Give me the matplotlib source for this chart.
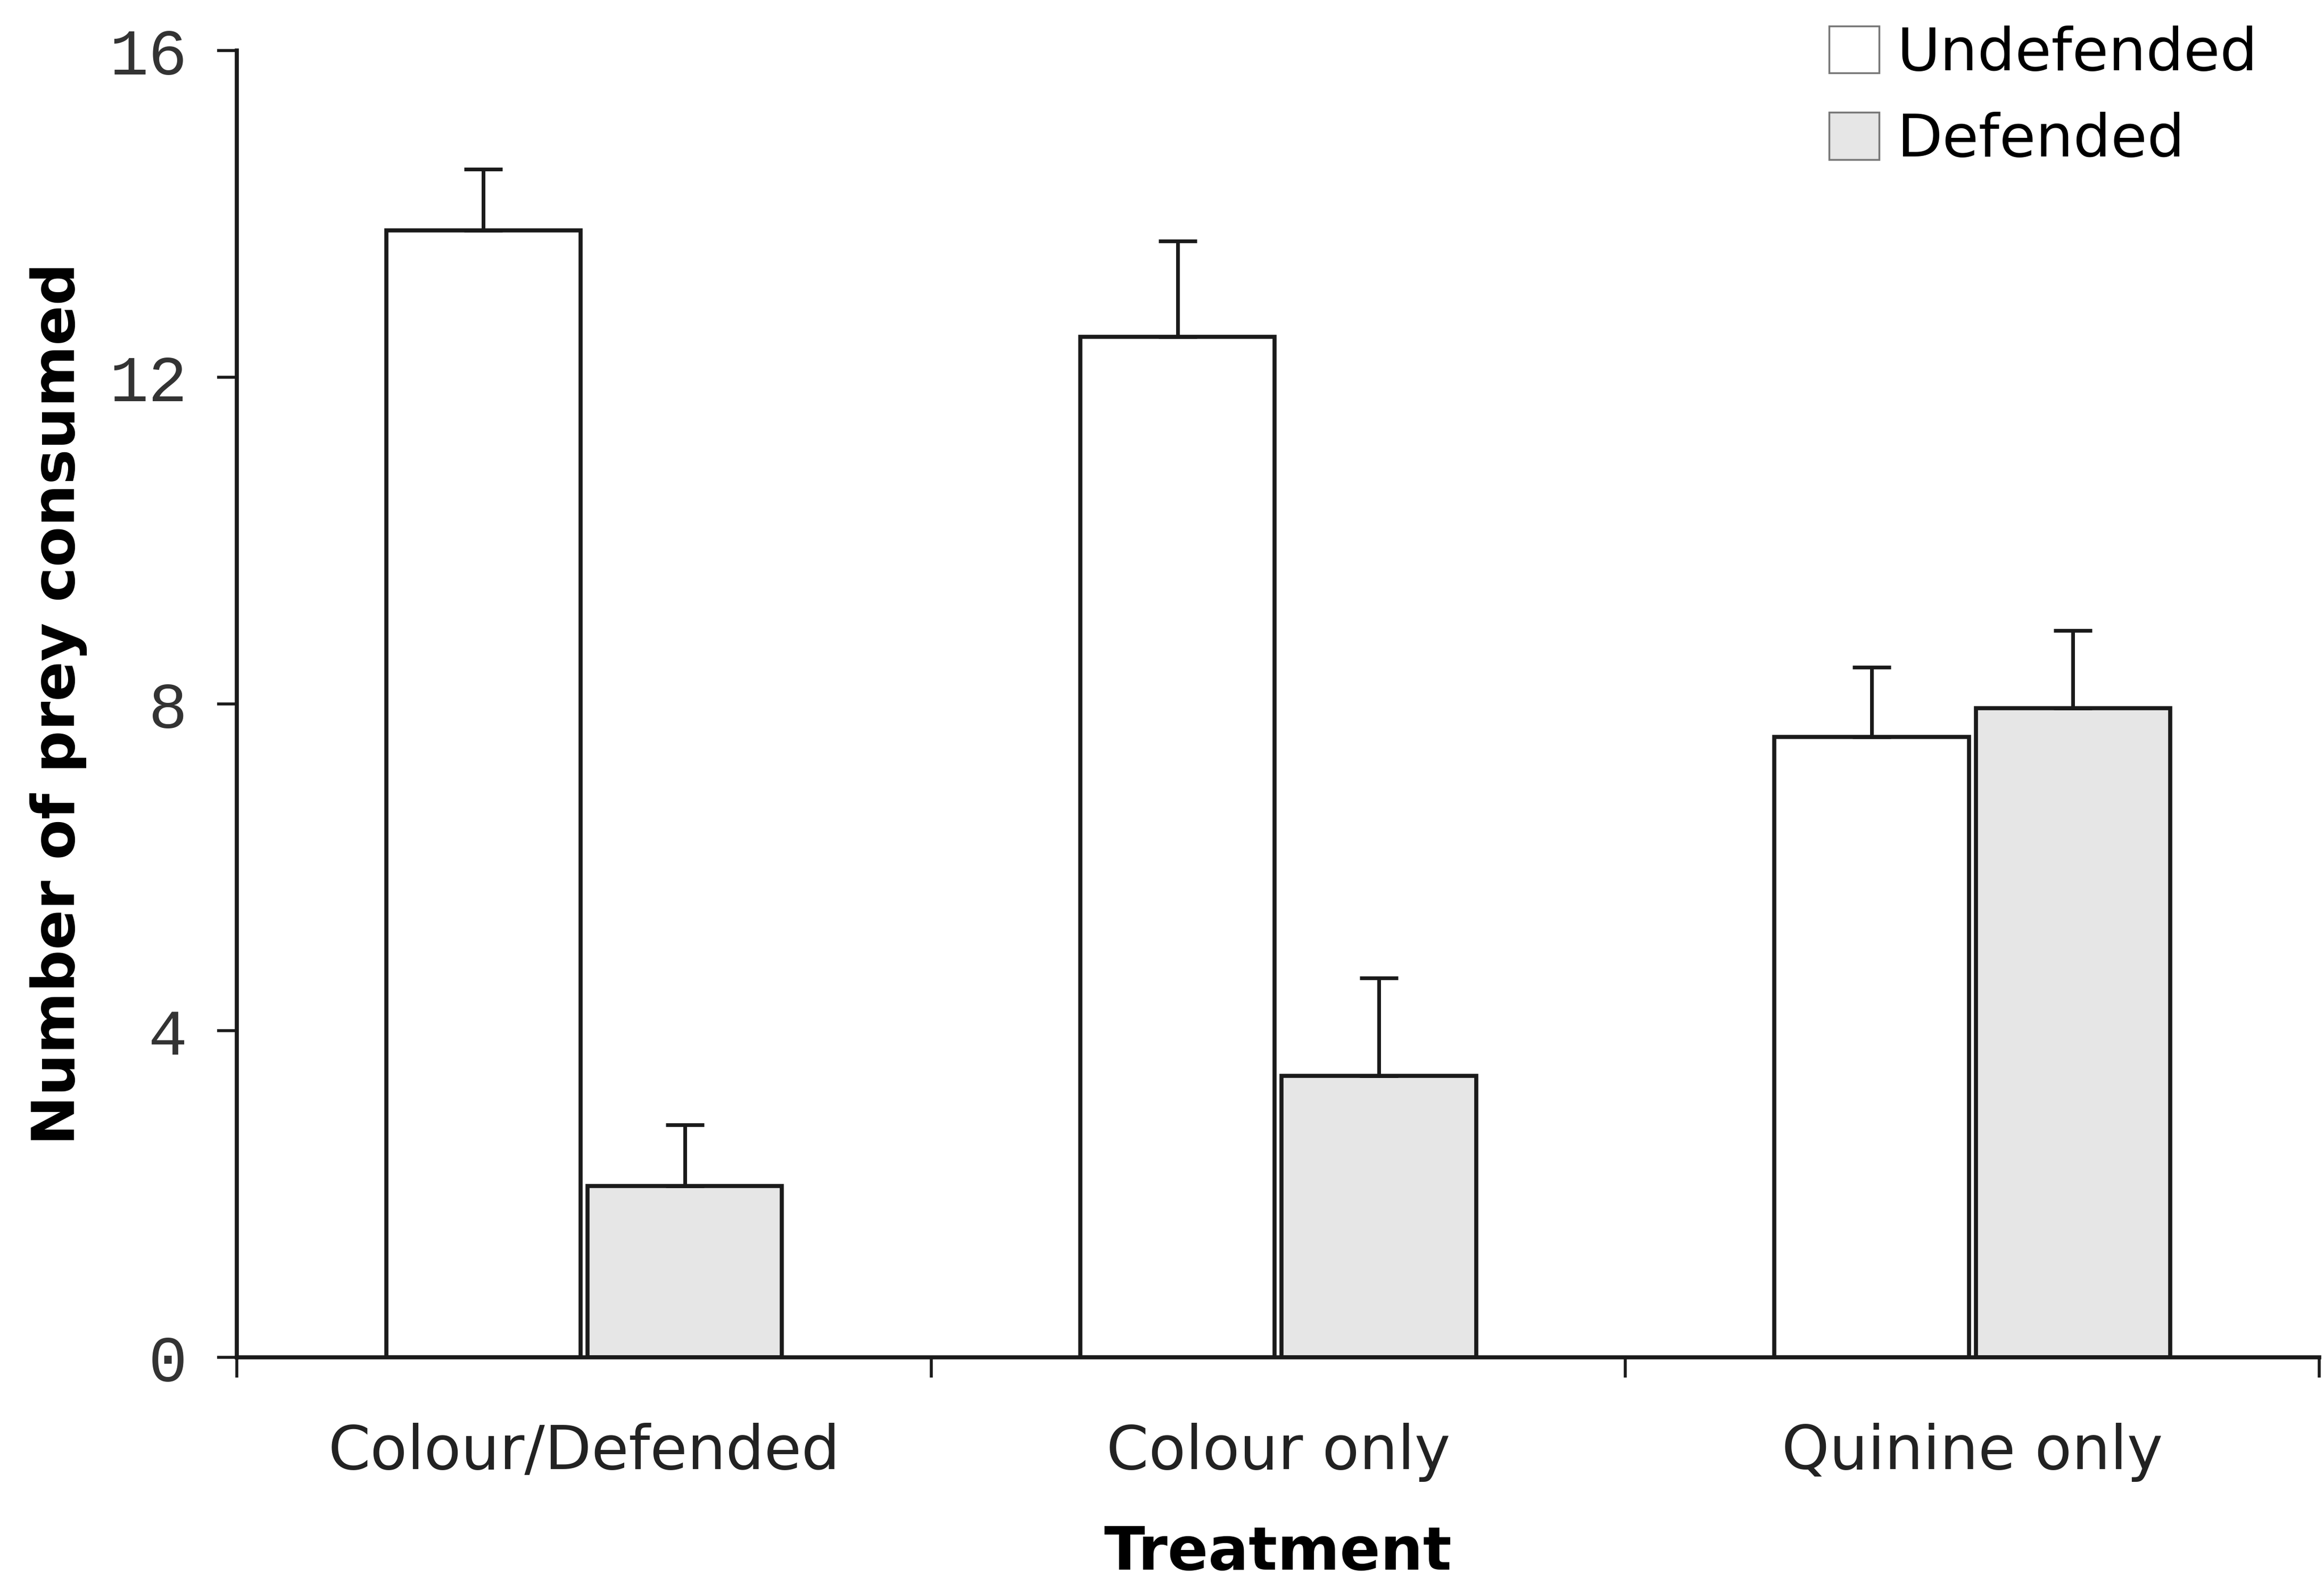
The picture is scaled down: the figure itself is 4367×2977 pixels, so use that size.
import matplotlib
matplotlib.use("Agg")
import matplotlib.pyplot as plt
import numpy as np
from matplotlib.patches import Patch

# mean prey consumed per treatment, with SE (upper bar only)
treatments = ["Colour/Defended", "Colour only", "Quinine only"]
undefended = [13.8, 12.5, 7.6]
undefended_se = [0.75, 1.17, 0.85]
defended = [2.1, 3.45, 7.95]
defended_se = [0.75, 1.2, 0.95]
y_ticks = [0, 4, 8, 12, 16]

FILL_UNDEF = "white"
FILL_DEF = "#e6e6e6"
INK = "#1a1a1a"

fig = plt.figure(figsize=(43.67, 29.77), dpi=100)
ax = fig.add_axes([0.102, 0.143, 0.896, 0.825])

x = np.arange(len(treatments))
width = 0.28
offset = 0.145
bar_kw = dict(edgecolor=INK, linewidth=5.5, zorder=2)
err_kw = dict(ecolor=INK, elinewidth=5, capsize=26, capthick=5, zorder=3)

ax.bar(x - offset, undefended, width, color=FILL_UNDEF,
       yerr=[np.zeros(3), undefended_se], error_kw=err_kw, **bar_kw)
ax.bar(x + offset, defended, width, color=FILL_DEF,
       yerr=[np.zeros(3), defended_se], error_kw=err_kw, **bar_kw)

ax.set_xlim(-0.5, 2.5)
ax.set_ylim(0, 16)

for side in ("top", "right"):
    ax.spines[side].set_visible(False)
for side in ("left", "bottom"):
    ax.spines[side].set_linewidth(5.5)
    ax.spines[side].set_color(INK)

# category labels sit between the boundary ticks
ax.set_xticks(x)
ax.set_xticklabels(treatments, fontsize=82)
ax.tick_params(axis="x", which="major", length=0, pad=88, colors="#222222")
ax.set_xticks(np.arange(-0.5, 3.0, 1.0), minor=True)
ax.tick_params(axis="x", which="minor", length=27, width=4, color=INK)

ax.set_yticks(y_ticks)
ax.set_yticklabels([str(v) for v in y_ticks], fontsize=88,
                   family="Liberation Mono", color="#333333")
ax.tick_params(axis="y", length=27, width=4, color=INK, pad=40)

ax.set_xlabel("Treatment", fontsize=81, fontweight="bold", labelpad=58)
ax.set_ylabel("Number of prey consumed", fontsize=80, fontweight="bold",
              labelpad=30)

handles = [Patch(facecolor=FILL_UNDEF, edgecolor="#777777", linewidth=2.5),
           Patch(facecolor=FILL_DEF, edgecolor="#777777", linewidth=2.5)]
fig.legend(handles, ["Undefended", "Defended"], loc="upper left",
           bbox_to_anchor=(0.787, 0.984), frameon=False, fontsize=80,
           handlelength=0.85, handleheight=0.85, handletextpad=0.3,
           labelspacing=0.5, borderpad=0, borderaxespad=0)

fig.savefig("out.png", dpi=100, facecolor="white")
